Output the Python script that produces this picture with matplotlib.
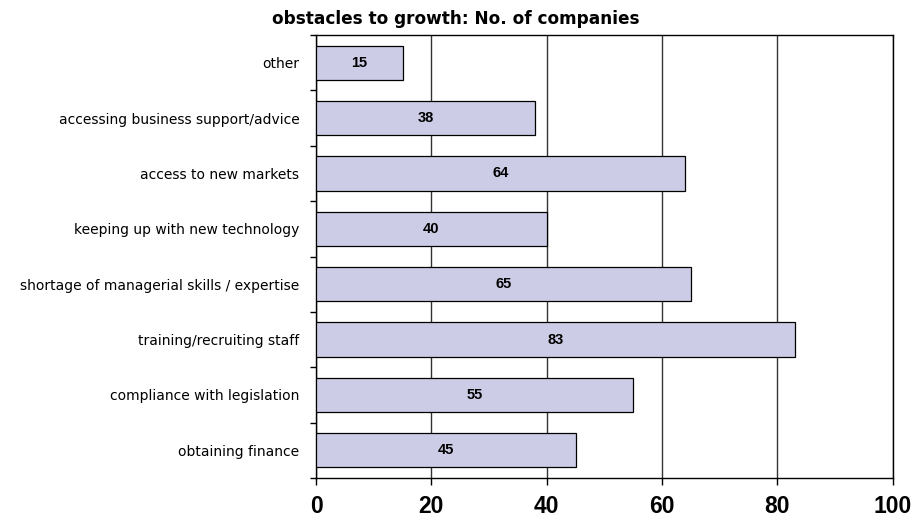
import numpy as np
import matplotlib.pyplot as plt

# obstacles to growth, top to bottom as in the chart
categories = ["other",
              "accessing business support/advice",
              "access to new markets",
              "keeping up with new technology",
              "shortage of managerial skills / expertise",
              "training/recruiting staff",
              "compliance with legislation",
              "obtaining finance"]
companies = [15, 38, 64, 40, 65, 83, 55, 45]

plt.rcParams['font.family'] = ['Liberation Sans', 'DejaVu Sans']

fig = plt.figure(figsize=(9.12, 5.18), dpi=100)
ax = fig.add_axes([0.3465, 0.0772, 0.6325, 0.8552])

y = np.arange(len(categories))
ax.barh(y, companies, height=0.62, color='#CCCCE6', edgecolor='black', linewidth=0.9, zorder=3)

# value labels in middle of each bar
for yi, v in zip(y, companies):
    ax.text(v / 2, yi, str(v), ha='center', va='center', fontsize=10.5, fontweight='bold', zorder=4)

ax.set_xlim(0, 100)
ax.set_ylim(len(categories) - 0.5, -0.5)
ax.set_xticks([0, 20, 40, 60, 80, 100])
ax.set_xticklabels(['0', '20', '40', '60', '80', '100'],
                   fontsize=16.5, fontweight='bold', family=['Liberation Sans Narrow', 'Liberation Sans'])
ax.tick_params(axis='x', length=5, width=1, pad=7)

# category labels at centres, tick marks between categories
ax.set_yticks(y)
ax.set_yticklabels(categories, fontsize=10, family=['DejaVu Sans'])
ax.tick_params(axis='y', which='major', length=0, pad=12)
ax.set_yticks(np.arange(len(categories) + 1) - 0.5, minor=True)
ax.tick_params(axis='y', which='minor', length=4, width=1)

ax.grid(axis='x', color='#333333', linewidth=1, zorder=0)
for s in ax.spines.values():
    s.set_linewidth(1)

fig.suptitle("obstacles to growth: No. of companies", x=0.5, y=0.98, fontsize=12.2,
             fontweight='bold', family=['DejaVu Sans'])

plt.savefig("out.png", dpi=100)
